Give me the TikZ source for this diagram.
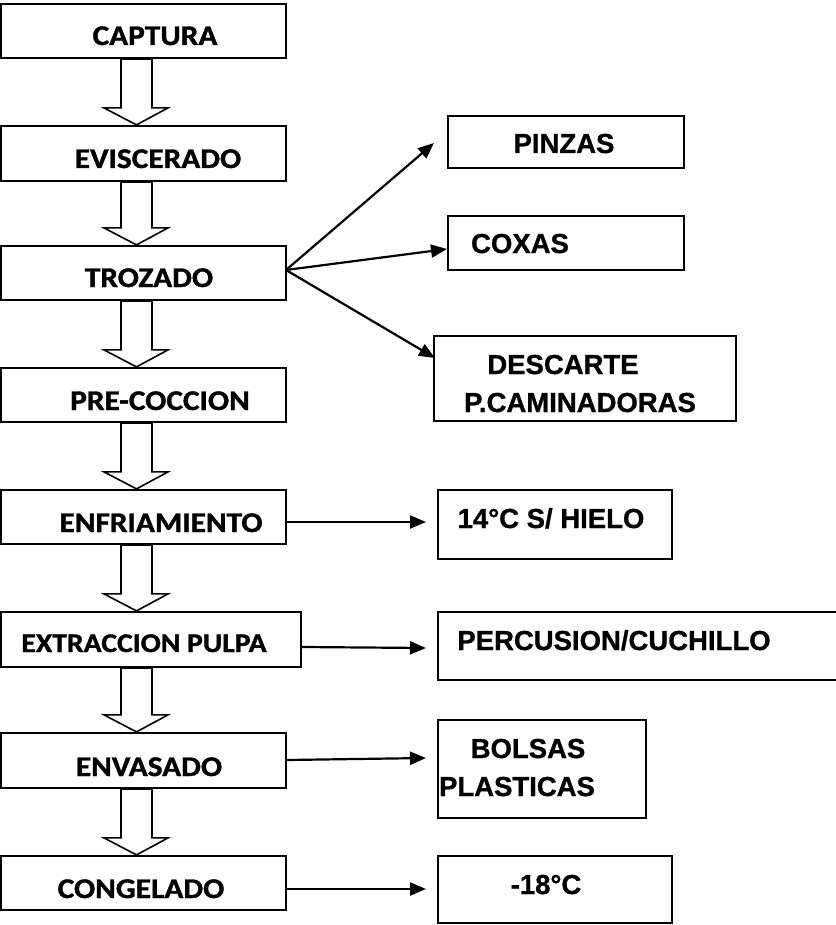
\documentclass[tikz,border=0pt]{standalone}
\usepackage{fontspec}
\usetikzlibrary{arrows.meta,calc}
\newfontfamily\leftfont[FakeStretch=1.1,FakeBold=1.2]{Carlito}
\newfontfamily\rightfont[FakeBold=1]{Liberation Sans}
\tikzset{
  box/.style={draw, line width=2.2pt, inner sep=0pt, rectangle},
  ltext/.style={anchor=base, inner sep=0pt, font=\leftfont\bfseries\fontsize{28.5}{30}\selectfont},
  rtext/.style={anchor=base, inner sep=0pt, font=\rightfont\bfseries\fontsize{27.5}{30}\selectfont},
  conn/.style={line width=2.2pt, -{Triangle[length=16pt,width=13pt]}},
  blockarrow/.style={draw, line width=1.6pt, line join=miter, fill=white}
}
\newcommand{\blockarr}[2]{%
  \path[blockarrow] let \p1=(#1.south), \p2=(#2.north) in
    (121pt,\y1) -- (152pt,\y1) -- (152pt,\y2+17pt) -- (168pt,\y2+17pt) --
    (136.5pt,\y2) -- (104pt,\y2+17pt) -- (121pt,\y2+17pt) -- cycle;}
\begin{document}
\begin{tikzpicture}[x=1pt,y=-1pt]
\useasboundingbox (0,0) rectangle (835,925);
% left column boxes
\node[box, minimum width=285pt, minimum height=54pt] (capt) at (143.5,31) {};
\node[box, minimum width=285pt, minimum height=55pt] (evis) at (143.5,153.5) {};
\node[box, minimum width=285pt, minimum height=54pt] (troz) at (143.5,273) {};
\node[box, minimum width=285pt, minimum height=54pt] (prec) at (143.5,395) {};
\node[box, minimum width=285pt, minimum height=54pt] (enfr) at (143.5,517) {};
\node[box, minimum width=300pt, minimum height=55pt] (extr) at (151,639.5) {};
\node[box, minimum width=285pt, minimum height=55pt] (enva) at (143.5,760.5) {};
\node[box, minimum width=285pt, minimum height=54pt] (cong) at (143.5,883) {};
% left texts
\node[ltext] (tcapt) at (155,45) {CAPTURA};
\node[ltext] (tevis) at (158,168) {EVISCERADO};
\node[ltext] (ttroz) at (149,287) {TROZADO};
\node[ltext] (tprec) at (160,410) {PRE-COCCION};
\node[ltext] (tenfr) at (161,532) {ENFRIAMIENTO};
\node[ltext, font=\leftfont\bfseries\fontsize{27}{30}\selectfont] (textr) at (144,652) {EXTRACCION PULPA};
\node[ltext] (tenva) at (149,776) {ENVASADO};
\node[ltext] (tcong) at (141,898) {CONGELADO};
% right boxes
\node[box, minimum width=236pt, minimum height=52pt] (pinz) at (566,142) {};
\node[box, minimum width=236pt, minimum height=54pt] (coxa) at (566,243) {};
\node[box, minimum width=302pt, minimum height=85pt] (desc) at (585,378.5) {};
\node[box, minimum width=234pt, minimum height=69pt] (hiel) at (555,524.5) {};
\node[box, minimum width=407pt, minimum height=68pt] (perc) at (641.5,646) {};
\node[box, minimum width=208pt, minimum height=98pt] (bols) at (542,769) {};
\node[box, minimum width=234pt, minimum height=67pt] (mdie) at (555,889.5) {};
% right texts
\node[rtext] (tpinz) at (564,153) {PINZAS};
\node[rtext] (tcoxa) at (520,253) {COXAS};
\node[rtext] (tdesc) at (563,374) {DESCARTE};
\node[rtext] (tcami) at (580,412) {P.CAMINADORAS};
\node[rtext] (thiel) at (551,528) {14°C S/ HIELO};
\node[rtext] (tperc) at (614,650) {PERCUSION/CUCHILLO};
\node[rtext] (tbols) at (528,758) {BOLSAS};
\node[rtext] (tplas) at (517,796) {PLASTICAS};
\node[rtext] (tmdie) at (546,894) {-18°C};
% block arrows
\blockarr{capt}{evis}
\blockarr{evis}{troz}
\blockarr{troz}{prec}
\blockarr{prec}{enfr}
\blockarr{enfr}{extr}
\blockarr{extr}{enva}
\blockarr{enva}{cong}
% thin arrow tips
\coordinate (ppinz) at (434,143);
\coordinate (pcoxa) at (447,249);
\coordinate (pdesc) at (435,358);
\coordinate (phiel) at (426,522);
\coordinate (pperc) at (426,648);
\coordinate (pbols) at (426,758);
\coordinate (pmdie) at (426,889);
\coordinate (ptroz) at (286,270);
\draw[conn] (ptroz) -- (ppinz);
\draw[conn] (ptroz) -- (pcoxa);
\draw[conn] (ptroz) -- (pdesc);
\draw[conn] (enfr.east |- phiel) -- (phiel);
\draw[conn] ([yshift=-7.5pt]extr.east) -- (pperc);
\draw[conn] (enva.east |- 0,760) -- (pbols);
\draw[conn] (cong.east |- pmdie) -- (pmdie);
\end{tikzpicture}
\end{document}
